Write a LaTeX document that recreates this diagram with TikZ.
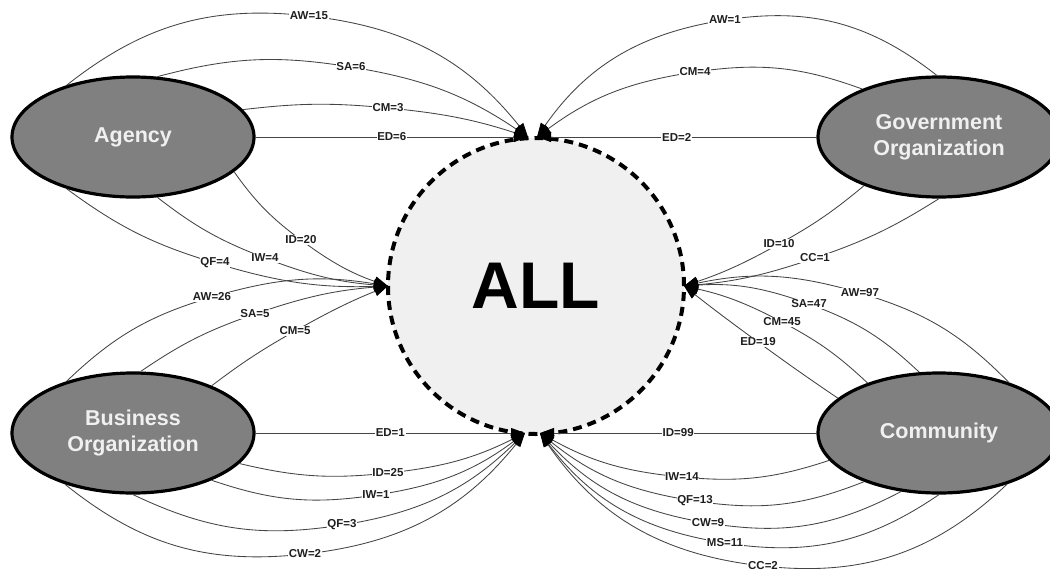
\documentclass[tikz,border=0pt]{standalone}
\usepackage{fontspec}
\setmainfont{Liberation Sans}
\usetikzlibrary{shapes.geometric,arrows.meta,calc}
\definecolor{ellfill}{HTML}{808080}
\definecolor{allfill}{HTML}{F0F0F0}
\definecolor{edgecol}{HTML}{444444}
\tikzset{
  ell/.style={ellipse, draw=black, line width=3.2pt, fill=ellfill,
    minimum width=242pt, minimum height=120pt, inner sep=0pt,
    text=white!94!black, align=center,
    font=\fontsize{21.5}{26}\selectfont\bfseries},
  allnode/.style={circle, draw=black, line width=4pt, dash pattern=on 9pt off 6pt,
    fill=allfill, minimum size=296pt, inner sep=0pt,
    font=\fontsize{66}{70}\selectfont\bfseries},
  edge/.style={draw=edgecol, line width=0.85pt,
    -{Triangle[length=14pt,width=10pt,color=black]}},
  lbl/.style={fill=white, inner sep=0.7pt, text=black!88,
    font=\fontsize{11.5}{12}\selectfont\bfseries},
}
\newcommand\curvedge[5]{%
  \draw[edge] let \p1=(#1), \p2=(#2), \p3=(#3),
    \n1={atan2(\y3-\y1,\x3-\x1)},
    \n2={atan2(\y2-\y1,\x2-\x1)},
    \n3={atan2(\y3-\y2,\x3-\x2)},
    \n4={2*\n2-\n1},
    \n5={\n1+180},
    \n6={2*\n3-\n1+180}
  in (\p1) to[out=\n4,in=\n5] (\p2) to[out=\n1,in=\n6] (\p3);
  \node[lbl] (#5) at (#2) {#4};
}
\begin{document}
\begin{tikzpicture}[x=1pt,y=-1pt]
\useasboundingbox (0,0) rectangle (1050,574);
\fill[white] (0,0) rectangle (1050,574);
\clip (0,0) rectangle (1050,574);

\node[allnode] (all) at (536,286) {ALL};

\coordinate (tl) at (528,137);
\coordinate (tr) at (537,137);
\coordinate (lp) at (388,286);
\coordinate (rp) at (684,286);
\coordinate (bl) at (525,433);
\coordinate (br) at (540,433);

\node[ell] (ag) at (133,137) {Agency};
\node[ell] (go) at (939,137) {Government\\Organization};
\node[ell] (bu) at (133,433) {Business\\Organization};
\node[ell] (co) at (939,433) {Community};

% Agency
\curvedge{ag.142}{309,16}{tl}{AW=15}{la1}
\curvedge{ag.68}{351,67}{tl}{SA=6}{la2}
\curvedge{ag.14}{388,108}{tl}{CM=3}{la3}
\draw[edge] (ag.east) -- (tl) node[lbl,midway] (la4) {ED=6};
\curvedge{ag.-19}{301,240}{lp}{ID=20}{la5}
\curvedge{ag.-68}{265,258}{lp}{IW=4}{la6}
\curvedge{ag.-142}{215,263}{lp}{QF=4}{la7}

% Business
\curvedge{bu.142}{212,297}{lp}{AW=26}{lb1}
\curvedge{bu.83}{255,314}{lp}{SA=5}{lb2}
\curvedge{bu.31}{295,331}{lp}{CM=5}{lb3}
\draw[edge] (bu.east) -- (bl) node[lbl,midway] (lb4) {ED=1};
\curvedge{bu.-16}{388,473}{bl}{ID=25}{lb5}
\curvedge{bu.-31}{376,495}{bl}{IW=1}{lb6}
\curvedge{bu.-90}{342,525}{bl}{QF=3}{lb7}
\curvedge{bu.-143}{305,554}{bl}{CW=2}{lb8}

% Government
\curvedge{go.92}{725,20}{tr}{AW=1}{lg1}
\curvedge{go.148}{695,72}{tr}{CM=4}{lg2}
\draw[edge] (go.west) -- (tr) node[lbl,midway] (lg3) {ED=2};
\curvedge{go.-147}{779,244}{rp}{ID=10}{lg4}
\curvedge{go.-90}{815,258}{rp}{CC=1}{lg5}

% Community
\curvedge{co.36}{860,293}{rp}{AW=97}{lc1}
\curvedge{co.108}{809,304}{rp}{SA=47}{lc2}
\curvedge{co.145}{782,322}{rp}{CM=45}{lc3}
\curvedge{co.161}{758,342}{rp}{ED=19}{lc4}
\draw[edge] (co.west) -- (br) node[lbl,midway] (lc5) {ID=99};
\curvedge{co.-166}{682,477}{br}{IW=14}{lc6}
\curvedge{co.-147}{695,501}{br}{QF=13}{lc7}
\curvedge{co.-123}{708,523}{br}{CW=9}{lc8}
\curvedge{co.-90}{725,543}{br}{MS=11}{lc9}
\curvedge{co.-37}{763,566}{br}{CC=2}{lc10}
\end{tikzpicture}
\end{document}
